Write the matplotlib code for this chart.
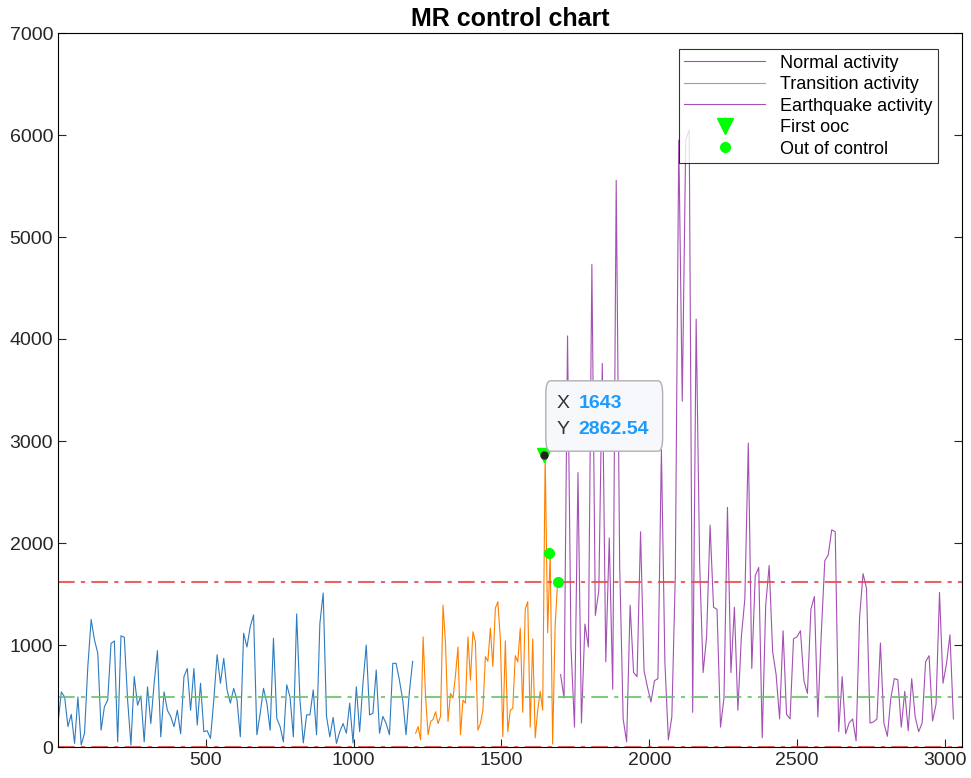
import numpy as np
import matplotlib
matplotlib.use('Agg')
from matplotlib import pyplot as plt
from matplotlib.lines import Line2D
from matplotlib.patches import FancyBboxPatch

plt.rcParams['font.family'] = ['Liberation Sans', 'DejaVu Sans']

# MR values
normal = [230, 540, 490, 200, 320, 35, 490, 20, 135, 790, 1250, 1050, 920, 165, 395, 460,
          1015, 1040, 50, 1090, 1075, 460, 20, 690, 410, 500, 50, 590, 230, 625, 945, 100,
          540, 360, 300, 200, 360, 130, 690, 770, 360, 770, 215, 625, 150, 160, 85, 460,
          905, 625, 870, 560, 430, 575, 460, 100, 1115, 980, 1180, 1295, 120, 330, 575, 430,
          165, 1065, 280, 200, 50, 610, 490, 100, 1305, 460, 40, 315, 315, 560, 120, 1210,
          1510, 300, 100, 290, 35, 150, 230, 135, 430, 40, 590, 150, 625, 1000, 315, 330,
          755, 135, 300, 230, 120, 820, 820, 655, 460, 120, 540, 840]
transition = [135, 200, 70, 1080, 490, 120, 250, 270, 345, 230, 300, 1390, 1015, 250, 525,
              480, 705, 980, 120, 460, 430, 1080, 655, 1130, 1030, 165, 230, 360, 885, 840,
              1165, 790, 1360, 1425, 1065, 100, 1040, 150, 360, 380, 895, 835, 1165, 340,
              1350, 1425, 195, 1060, 90, 360, 545, 360, 2862.54, 1120, 1905, 30, 1185, 1617]
earthquake = [710, 480, 4030, 975, 195, 2690, 235, 1205, 980, 4730, 1290, 1535, 3760, 835,
              2050, 565, 5555, 1780, 275, 50, 1390, 730, 690, 2110, 750, 585, 440, 650, 670,
              2915, 835, 70, 295, 1680, 5950, 3390, 5950, 6050, 340, 4195, 1800, 730, 1080,
              2175, 1370, 1350, 195, 480, 2350, 730, 1370, 360, 1080, 1450, 2980, 770, 1680,
              1760, 90, 1390, 1780, 935, 710, 275, 1140, 320, 275, 1060, 1080, 1140, 650, 525,
              1350, 1475, 295, 1120, 1825, 1885, 2130, 2110, 150, 690, 130, 235, 275, 60,
              1265, 1700, 1555, 235, 245, 275, 1020, 235, 105, 480, 670, 660, 195, 545, 160,
              670, 295, 150, 235, 835, 895, 255, 420, 1515, 625, 815, 1100, 275]
first_ooc = (1643, 2862.54)
ooc_x = [1660, 1690]
ooc_y = [1905, 1617]
ucl, cl, lcl = 1615, 490, 0

x_n = np.linspace(1, 1200, len(normal))
x_t = np.linspace(1210, 1690, len(transition))
x_e = np.linspace(1700, 3028, len(earthquake))

fig = plt.figure(figsize=(9.71, 7.78), dpi=100)
ax = fig.add_axes([58/971, 31/778, 904/971, 714/778])

ax.plot(x_n, normal, color='#2f7bbf', lw=0.8)
ax.plot(x_t, transition, color='#ff8000', lw=0.8)
ax.plot(x_e, earthquake, color='#a450b4', lw=0.8)

for yv, c in [(ucl, '#e8474a'), (cl, '#6cc06c'), (lcl, '#e8474a')]:
    ax.axhline(yv, color=c, lw=1.5, ls=(0, (8, 3, 2, 3)), alpha=0.85)

ax.plot(*first_ooc, 'v', color='#00ff00', ms=10)
ax.plot(ooc_x, ooc_y, 'o', color='#00ff00', ms=7)

# data tip
ax.plot(*first_ooc, 'o', color='#222222', ms=5, zorder=5)
ax.add_patch(FancyBboxPatch((1650, 2900), 395, 690, boxstyle='round,pad=0,rounding_size=15',
                            fc='#f7f8fc', ec='#b0b0b0', lw=1, zorder=4, mutation_aspect=9))
ax.text(1685, 3370, 'X', fontsize=14, color='#333333', va='center', zorder=6)
ax.text(1760, 3370, '1643', fontsize=14, color='#1a9cff', fontweight='bold', va='center', zorder=6)
ax.text(1685, 3110, 'Y', fontsize=14, color='#333333', va='center', zorder=6)
ax.text(1760, 3110, '2862.54', fontsize=14, color='#1a9cff', fontweight='bold', va='center', zorder=6)

ax.set_xlim(1, 3057)
ax.set_ylim(0, 7000)
ax.set_yticks(range(0, 7001, 1000))
ax.set_xticks(range(500, 3001, 500))
ax.tick_params(direction='in', labelsize=14, length=6, top=False, right=True, colors='#262626')
ax.set_title('MR control chart', fontsize=18, fontweight='bold', pad=5)

handles = [Line2D([], [], color='#a450b4', lw=0.8),
           Line2D([], [], color='#a0a0a0', lw=0.8),
           Line2D([], [], color='#a450b4', lw=0.8),
           Line2D([], [], ls='none', marker='v', color='#00ff00', ms=11),
           Line2D([], [], ls='none', marker='o', color='#00ff00', ms=7)]
labels = ['Normal activity', 'Transition activity', 'Earthquake activity', 'First ooc', 'Out of control']
leg = ax.legend(handles, labels, loc='upper right', fontsize=13, fancybox=False,
                edgecolor='black', handlelength=4.5, borderpad=0.3, labelspacing=0.25,
                bbox_to_anchor=(0.983, 0.99))
leg.get_frame().set_linewidth(0.8)

fig.savefig('out.png', dpi=100)
